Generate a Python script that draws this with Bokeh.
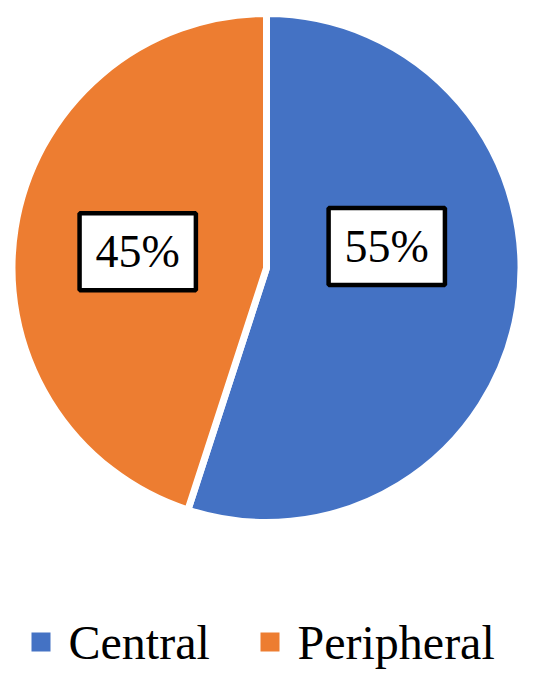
import math
from bokeh.plotting import figure
from bokeh.models import ColumnDataSource, Label, Range1d
from bokeh.embed import file_html
from bokeh.resources import INLINE

categories = ["Central", "Peripheral"]
shares = [55, 45]
colors = ["#4472C4", "#ED7D31"]
labels = ["55%", "45%"]

FONT = "'Liberation Serif', 'DejaVu Serif', serif"

W, H = 542, 671
p = figure(width=W, height=H, output_backend="svg", toolbar_location=None,
           x_range=Range1d(0, W), y_range=Range1d(0, H), min_border=0,
           outline_line_color=None)
p.axis.visible = False
p.grid.visible = False
p.background_fill_color = "white"
p.border_fill_color = "white"

cx, cy, r = 266, H - 267.5, 254.5
total = sum(shares)
start = math.pi / 2
starts, ends = [], []
for s in shares:
    a = 2 * math.pi * s / total
    ends.append(start)
    starts.append(start - a)
    start -= a

src = ColumnDataSource(dict(cat=categories, start=starts, end=ends, color=colors,
                            x=[cx] * len(shares), y=[cy] * len(shares)))
p.wedge(x="x", y="y", radius=r, start_angle="start", end_angle="end",
        fill_color="color", line_color="white", line_width=7, source=src)

# data labels in boxes (label placement: angle in degrees, radial fraction)
label_pos = [(10.1, 0.48), (172.8, 0.51)]
for lab, (ang, frac) in zip(labels, label_pos):
    lx = cx + frac * r * math.cos(math.radians(ang))
    ly = cy + frac * r * math.sin(math.radians(ang))
    p.add_layout(Label(x=lx, y=ly, text=lab, text_font=FONT,
                       text_font_size="46px", text_color="black",
                       text_align="center", text_baseline="middle",
                       background_fill_color="white",
                       border_line_color="black", border_line_width=4.5,
                       padding=(16, 13)))

# legend
leg_y = H - 641.5
for sx, cat, col in zip([31, 260], categories, colors):
    p.rect(x=sx + 9.5, y=leg_y, width=19, height=19, fill_color=col, line_color=None)
    p.add_layout(Label(x=sx + 37, y=leg_y, text=cat, text_font=FONT,
                       text_font_size="48px", text_color="black",
                       text_align="left", text_baseline="middle"))

open("out.html", "w").write(file_html(p, INLINE))
